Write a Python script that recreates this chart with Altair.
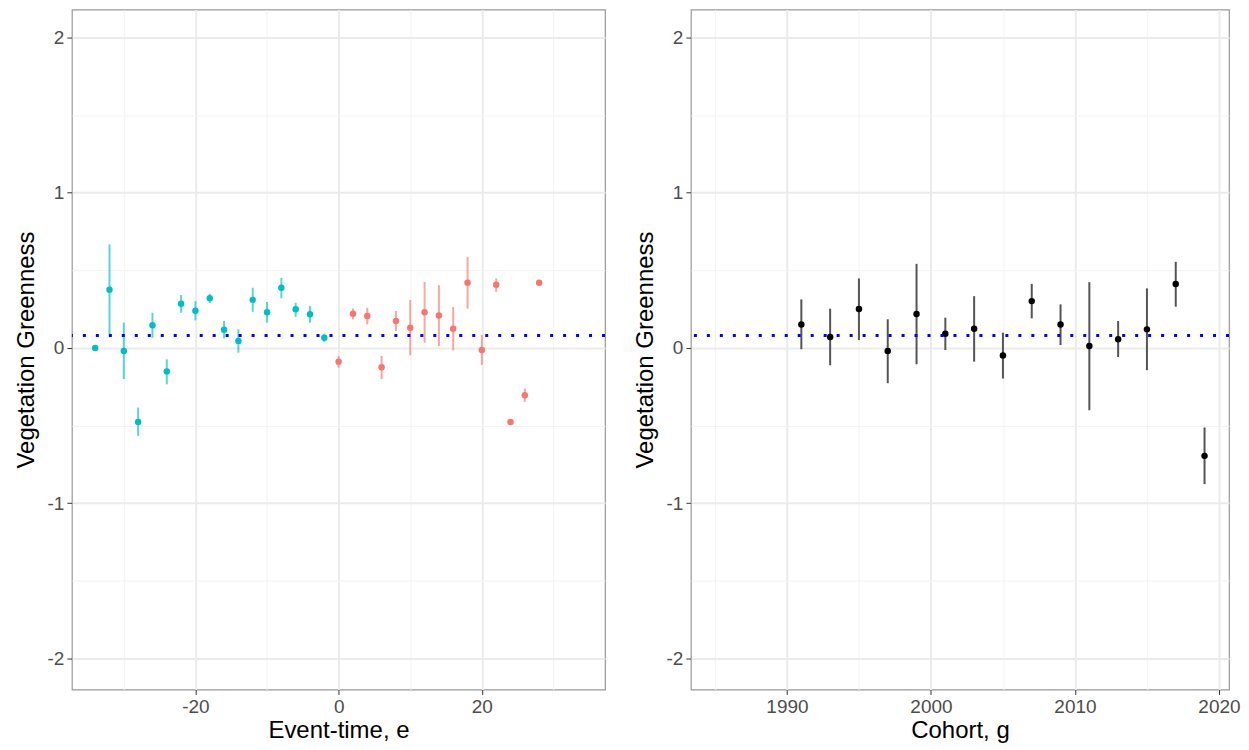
import altair as alt
import pandas as pd

# ---- Left panel: event-time estimates ----
event_time = [-34, -32, -30, -28, -26, -24, -22, -20, -18, -16, -14, -12, -10, -8, -6, -4, -2,
              0, 2, 4, 6, 8, 10, 12, 14, 16, 18, 20, 22, 24, 26, 28]
event_est = [0.00, 0.375, -0.02, -0.476, 0.146, -0.152, 0.285, 0.24, 0.32, 0.118, 0.045, 0.31,
             0.23, 0.388, 0.249, 0.217, 0.066,
             -0.088, 0.221, 0.206, -0.124, 0.174, 0.131, 0.231, 0.21, 0.124, 0.42, -0.013,
             0.407, -0.476, -0.304, 0.42]
event_lo = [0.00, 0.088, -0.20, -0.566, 0.066, -0.234, 0.227, 0.178, 0.289, 0.062, -0.03, 0.233,
            0.163, 0.32, 0.201, 0.163, 0.04,
            -0.127, 0.185, 0.152, -0.20, 0.109, -0.047, 0.034, 0.013, -0.015, 0.253, -0.109,
            0.362, -0.476, -0.347, 0.42]
event_hi = [0.00, 0.667, 0.163, -0.384, 0.227, -0.073, 0.341, 0.302, 0.349, 0.174, 0.12, 0.388,
            0.296, 0.452, 0.291, 0.27, 0.092,
            -0.051, 0.255, 0.259, -0.051, 0.238, 0.309, 0.426, 0.405, 0.264, 0.587, 0.084,
            0.448, -0.476, -0.262, 0.42]
event_group = ["pre"] * 17 + ["post"] * 15

# ---- Right panel: cohort estimates ----
cohort = [1991, 1993, 1995, 1997, 1999, 2001, 2003, 2005, 2007, 2009, 2011, 2013, 2015, 2017, 2019]
cohort_est = [0.152, 0.071, 0.251, -0.019, 0.219, 0.092, 0.124, -0.049, 0.302, 0.152, 0.013,
              0.056, 0.12, 0.412, -0.695]
cohort_lo = [-0.008, -0.111, 0.051, -0.227, -0.105, -0.013, -0.088, -0.197, 0.191, 0.019, -0.401,
             -0.058, -0.143, 0.266, -0.877]
cohort_hi = [0.313, 0.253, 0.448, 0.185, 0.542, 0.195, 0.334, 0.099, 0.413, 0.281, 0.424,
             0.174, 0.384, 0.555, -0.512]

overall_att = 0.08

y_ticks = [-2, -1.5, -1, -0.5, 0, 0.5, 1, 1.5, 2]
x_left_ticks = [-30, -20, -10, 0, 10, 20, 30]
x_right_ticks = [1985, 1990, 1995, 2000, 2005, 2010, 2015, 2020]

df_e = pd.DataFrame({"e": event_time, "est": event_est, "lo": event_lo, "hi": event_hi,
                     "grp": event_group})
df_g = pd.DataFrame({"g": cohort, "est": cohort_est, "lo": cohort_lo, "hi": cohort_hi})
df_h = pd.DataFrame({"att": [overall_att]})

FONT = "Liberation Sans"


def make_axis(values, major_test, title, title_pad):
    return alt.Axis(
        values=values,
        title=title,
        labelExpr=f"({major_test}) ? '' + datum.value : ''",
        grid=True,
        gridColor={"condition": {"test": major_test, "value": "#EBEBEB"}, "value": "#F2F2F2"},
        gridWidth={"condition": {"test": major_test, "value": 2}, "value": 1},
        tickOpacity={"condition": {"test": major_test, "value": 1}, "value": 0},
        tickColor="#333333",
        tickSize=5,
        tickWidth=1,
        domain=False,
        labelFont=FONT,
        labelFontSize=19,
        labelColor="#4D4D4D",
        labelPadding=3,
        titleFont=FONT,
        titleFontSize=24,
        titleFontWeight="normal",
        titleColor="black",
        titlePadding=title_pad,
    )


y_scale = alt.Scale(domain=[-2.2, 2.18], nice=False, zero=False)
y_left_axis = make_axis(y_ticks, "datum.value % 1 === 0", "Vegetation Greenness", 9)
y_right_axis = make_axis(y_ticks, "datum.value % 1 === 0", "Vegetation Greenness", 9)
xl_axis = make_axis(x_left_ticks, "datum.value % 20 === 0", "Event-time, e", 2)
xr_axis = make_axis(x_right_ticks, "datum.value % 10 === 0", "Cohort, g", 2)

xl_scale = alt.Scale(domain=[-37.25, 37.2], nice=False, zero=False)
xr_scale = alt.Scale(domain=[1983.33, 2020.7], nice=False, zero=False)

color_scale = alt.Scale(domain=["pre", "post"], range=["#00BFC4", "#F8766D"])

hline = alt.Chart(df_h).mark_rule(
    color="#0000FF", strokeWidth=3, strokeDash=[3, 10], strokeCap="butt"
).encode(y=alt.Y("att:Q", scale=y_scale, axis=y_left_axis))

left_bars = alt.Chart(df_e).mark_rule(strokeWidth=2, opacity=0.65).encode(
    x=alt.X("e:Q", scale=xl_scale, axis=xl_axis),
    y=alt.Y("lo:Q", scale=y_scale, axis=y_left_axis),
    y2="hi:Q",
    color=alt.Color("grp:N", scale=color_scale, legend=None),
)
left_pts = alt.Chart(df_e).mark_circle(size=42, opacity=1).encode(
    x=alt.X("e:Q", scale=xl_scale, axis=xl_axis),
    y=alt.Y("est:Q", scale=y_scale, axis=y_left_axis),
    color=alt.Color("grp:N", scale=color_scale, legend=None),
)
left = alt.layer(left_bars, left_pts, hline).properties(width=534, height=681)

hline_r = alt.Chart(df_h).mark_rule(
    color="#0000FF", strokeWidth=3, strokeDash=[3, 10], strokeCap="butt"
).encode(y=alt.Y("att:Q", scale=y_scale, axis=y_right_axis))

right_bars = alt.Chart(df_g).mark_rule(strokeWidth=2, color="#555555").encode(
    x=alt.X("g:Q", scale=xr_scale, axis=xr_axis),
    y=alt.Y("lo:Q", scale=y_scale, axis=y_right_axis),
    y2="hi:Q",
)
right_pts = alt.Chart(df_g).mark_circle(size=42, opacity=1, color="black").encode(
    x=alt.X("g:Q", scale=xr_scale, axis=xr_axis),
    y=alt.Y("est:Q", scale=y_scale, axis=y_right_axis),
)
right = alt.layer(right_bars, right_pts, hline_r).properties(width=539, height=681)

chart = alt.hconcat(left, right, spacing=24).properties(
    padding={"left": 5, "top": 0, "right": 0, "bottom": 0},
    background="white",
).configure_view(stroke="#999999", strokeWidth=1.2)

chart.save("out.html", embed_options={"renderer": "svg", "actions": False})
